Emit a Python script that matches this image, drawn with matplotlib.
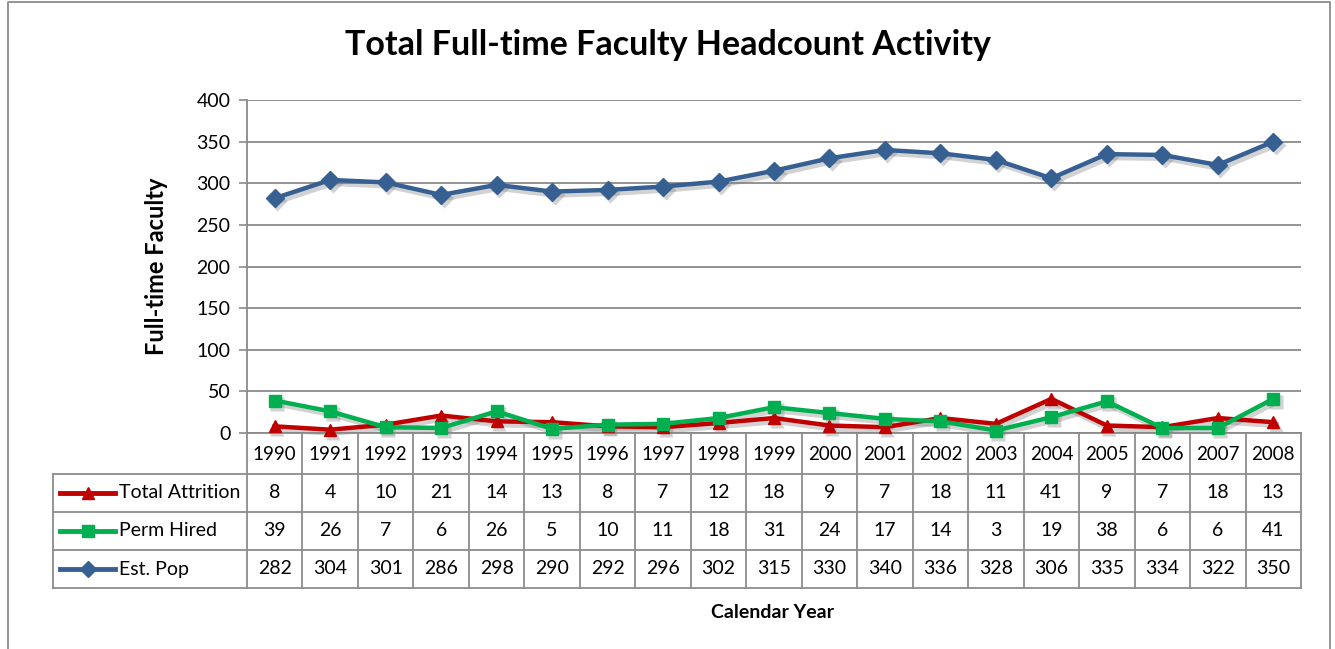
import numpy as np
import matplotlib
matplotlib.use('Agg')
from matplotlib import pyplot as plt
from matplotlib.transforms import blended_transform_factory, offset_copy

plt.rcParams['font.family'] = ['Lato', 'DejaVu Sans']

years = ['1990', '1991', '1992', '1993', '1994', '1995', '1996', '1997', '1998', '1999',
         '2000', '2001', '2002', '2003', '2004', '2005', '2006', '2007', '2008']
attrition = [8, 4, 10, 21, 14, 13, 8, 7, 12, 18, 9, 7, 18, 11, 41, 9, 7, 18, 13]
hired = [39, 26, 7, 6, 26, 5, 10, 11, 18, 31, 24, 17, 14, 3, 19, 38, 6, 6, 41]
est_pop = [282, 304, 301, 286, 298, 290, 292, 296, 302, 315, 330, 340, 336, 328, 306, 335, 334, 322, 350]

series_names = ['Total Attrition', 'Perm Hired', 'Est. Pop']
series_values = [attrition, hired, est_pop]
colors = ['#C00000', '#00B050', '#376092']
markers = ['^', 's', 'D']
msizes = [8.5, 8, 9]

W, H = 1335, 649
fig = plt.figure(figsize=(W / 100, H / 100), dpi=100)

# outer chart frame (cut off at the bottom)
frame = fig.add_axes([0, 0, 1, 1], zorder=-5)
frame.set_xlim(0, W)
frame.set_ylim(H, 0)
frame.axis('off')
frame.plot([8, 8, 1330, 1330], [H, 2, 2, H], color='#8c8c8c', lw=1.3)

# plot area in pixels
left, right, top, bottom = 247, 1301, 100, 433
ax = fig.add_axes([left / W, 1 - bottom / H, (right - left) / W, (bottom - top) / H])

x = np.arange(len(years))
shadow_tr = offset_copy(ax.transData, fig=fig, x=2.5, y=-3, units='dots')
for name, vals, c, m, ms in zip(series_names, series_values, colors, markers, msizes):
    # soft drop shadow like Excel
    ax.plot(x, vals, color='#7f7f7f', alpha=0.35, lw=4.5, marker=m, ms=ms + 1.5,
            mec='none', transform=shadow_tr, zorder=2, clip_on=False)
    ax.plot(x, vals, color=c, lw=3.2, marker=m, ms=ms, mec=c, mfc=c,
            zorder=3, clip_on=False)

ax.set_xlim(-0.5, len(years) - 0.5)
ax.set_ylim(0, 400)
ax.set_yticks(np.arange(0, 401, 50))
ax.yaxis.grid(True, color='#8a8a8a', lw=1.3)
ax.set_axisbelow(True)
ax.tick_params(axis='y', length=6, width=1.2, color='#8a8a8a', labelsize=14, pad=6)
ax.tick_params(axis='x', length=0, labelbottom=False)
for s in ['top', 'right']:
    ax.spines[s].set_visible(False)
ax.spines['left'].set_color('#8a8a8a')
ax.spines['left'].set_linewidth(1.3)
ax.spines['bottom'].set_color('#8a8a8a')
ax.spines['bottom'].set_linewidth(1.3)

ax.set_ylabel('Full-time Faculty', fontsize=17, fontweight='bold', labelpad=20)
fig.suptitle('Total Full-time Faculty Headcount Activity', fontsize=24.5, fontweight='bold',
             x=668 / W, y=1 - 45 / H, va='center')

# data table under the axis
ph = bottom - top
def ya(py):
    return -(py - bottom) / ph

tr = blended_transform_factory(ax.transData, ax.transAxes)
grid_kw = dict(color='#8c8c8c', lw=1.3, transform=tr, clip_on=False)
row_edges = [433, 474, 512, 550, 588]
lab_x0 = -4.0
n = len(years)

# horizontal lines
for py in row_edges[1:]:
    ax.plot([lab_x0, n - 0.5], [ya(py), ya(py)], **grid_kw)
# vertical lines
for j in range(n + 1):
    ax.plot([j - 0.5, j - 0.5], [ya(433), ya(588)], **grid_kw)
ax.plot([lab_x0, lab_x0], [ya(474), ya(588)], **grid_kw)

# year row
yc = ya((433 + 474) / 2 + 1)
for j, yr in enumerate(years):
    ax.text(j, yc, yr, transform=tr, ha='center', va='center', fontsize=13.5)

# series rows with legend keys
for r, (name, vals, c, m) in enumerate(zip(series_names, series_values, colors, markers)):
    yc = ya((row_edges[r + 1] + row_edges[r + 2]) / 2)
    ax.plot([-3.87, -2.88], [yc, yc], color=c, lw=3.5, transform=tr, clip_on=False)
    ax.plot([-3.375], [yc], marker=m, ms=8, color=c, transform=tr, clip_on=False)
    ax.text(-2.81, yc, name, transform=tr, ha='left', va='center', fontsize=14)
    for j, v in enumerate(vals):
        ax.text(j, yc, str(v), transform=tr, ha='center', va='center', fontsize=14)

fig.text(773 / W, 1 - 612 / H, 'Calendar Year', ha='center', va='center',
         fontsize=14, fontweight='bold')

fig.savefig('out.png', dpi=100)
